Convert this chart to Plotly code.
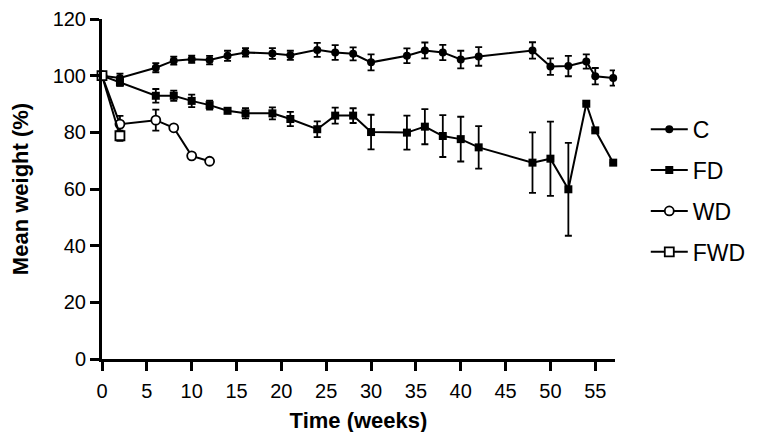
import plotly.graph_objects as go

# ---- data ----
c_weeks = [0, 2, 6, 8, 10, 12, 14, 16, 19, 21, 24, 26, 28, 30, 34, 36, 38, 40, 42, 48, 50, 52, 54, 55, 57]
c_mean = [100, 99.2, 102.8, 105.3, 105.8, 105.5, 107.0, 108.2, 107.8, 107.2, 109.1, 108.2, 107.7, 104.7,
          107.0, 108.9, 108.2, 105.7, 106.8, 108.9, 103.2, 103.4, 105.0, 99.8, 99.2]
c_err = [None, 1.5, 1.6, 1.4, 1.3, 1.5, 1.8, 1.5, 1.9, 1.6, 2.5, 2.6, 2.3, 2.8,
         2.6, 2.8, 2.7, 3.1, 3.3, 2.9, 2.9, 3.6, 2.5, 2.9, 2.7]

fd_weeks = [0, 2, 6, 8, 10, 12, 14, 16, 19, 21, 24, 26, 28, 30, 34, 36, 38, 40, 42, 48, 50, 52, 54, 55, 57]
fd_mean = [100, 97.6, 92.9, 92.9, 91.1, 89.6, 87.6, 86.7, 86.7, 84.7, 81.1, 85.9, 85.9, 80.1,
           79.9, 82.0, 78.7, 77.6, 74.7, 69.3, 70.7, 59.9, 90.1, 80.7, 69.3]
fd_err = [None, 1.2, 2.4, 1.8, 2.2, 1.6, 0.6, 1.8, 2.1, 2.5, 2.8, 2.8, 2.6, 6.1,
          6.0, 6.2, 7.4, 7.9, 7.5, 10.7, 13.1, 16.4, None, None, None]

wd_weeks = [0, 2, 6, 8, 10, 12]
wd_mean = [100, 82.9, 84.3, 81.6, 71.7, 69.8]
wd_err = [None, 2.9, 3.7, None, None, None]

fwd_weeks = [0, 2]
fwd_mean = [100, 78.8]
fwd_err = [None, 1.8]

x_ticks = [0, 5, 10, 15, 20, 25, 30, 35, 40, 45, 50, 55]
y_ticks = [0, 20, 40, 60, 80, 100, 120]

BLACK = "#000000"
FONT = "Liberation Sans, Arial, sans-serif"


def err(arr):
    return dict(type="data", array=[v if v is not None else float("nan") for v in arr],
                visible=True, color=BLACK, thickness=1.8, width=3.5)


fig = go.Figure()
fig.add_trace(go.Scatter(x=c_weeks, y=c_mean, error_y=err(c_err), name="C", mode="lines+markers",
                         line=dict(color=BLACK, width=2),
                         marker=dict(symbol="circle", size=8, color=BLACK), cliponaxis=False,
                         legendgroup="a"))
fig.add_trace(go.Scatter(x=fd_weeks, y=fd_mean, error_y=err(fd_err), name="FD", mode="lines+markers",
                         line=dict(color=BLACK, width=2),
                         marker=dict(symbol="square", size=8, color=BLACK), cliponaxis=False,
                         legendgroup="b"))
fig.add_trace(go.Scatter(x=wd_weeks, y=wd_mean, error_y=err(wd_err), name="WD", mode="lines+markers",
                         line=dict(color=BLACK, width=2),
                         marker=dict(symbol="circle", size=9, color="white",
                                     line=dict(color=BLACK, width=1.8)), cliponaxis=False,
                         legendgroup="c"))
fig.add_trace(go.Scatter(x=fwd_weeks, y=fwd_mean, error_y=err(fwd_err), name="FWD", mode="lines+markers",
                         line=dict(color=BLACK, width=2),
                         marker=dict(symbol="square", size=9, color="white",
                                     line=dict(color=BLACK, width=1.8)), cliponaxis=False,
                         legendgroup="d"))

fig.update_layout(
    width=758, height=432,
    margin=dict(l=94, r=151, t=11, b=81, autoexpand=False),
    paper_bgcolor="white", plot_bgcolor="white",
    font=dict(family=FONT, color=BLACK, size=20),
    showlegend=True,
    legend=dict(x=1.06, y=0.495, xanchor="left", yanchor="middle", itemwidth=37,
                font=dict(size=23), tracegroupgap=8, bgcolor="rgba(0,0,0,0)"),
    xaxis=dict(range=[0, 57.2], tickvals=x_ticks, ticktext=[str(v) for v in x_ticks],
               showline=True, linecolor=BLACK, linewidth=3, ticks="outside", ticklen=9,
               tickwidth=3, tickcolor=BLACK, showgrid=False, zeroline=False, automargin=False,
               tickfont=dict(size=20), ticklabelstandoff=3,
               title=dict(text="<b>Time (weeks)</b>", font=dict(size=22), standoff=12)),
    yaxis=dict(range=[0, 120], tickvals=y_ticks, ticktext=[str(v) for v in y_ticks],
               showline=True, linecolor=BLACK, linewidth=3, ticks="outside", ticklen=9,
               tickwidth=3, tickcolor=BLACK, showgrid=False, zeroline=False, automargin=False,
               tickfont=dict(size=20),
               title=dict(text="<b>Mean weight (%)</b>", font=dict(size=22), standoff=24)),
)

fig.write_html("out.html")
